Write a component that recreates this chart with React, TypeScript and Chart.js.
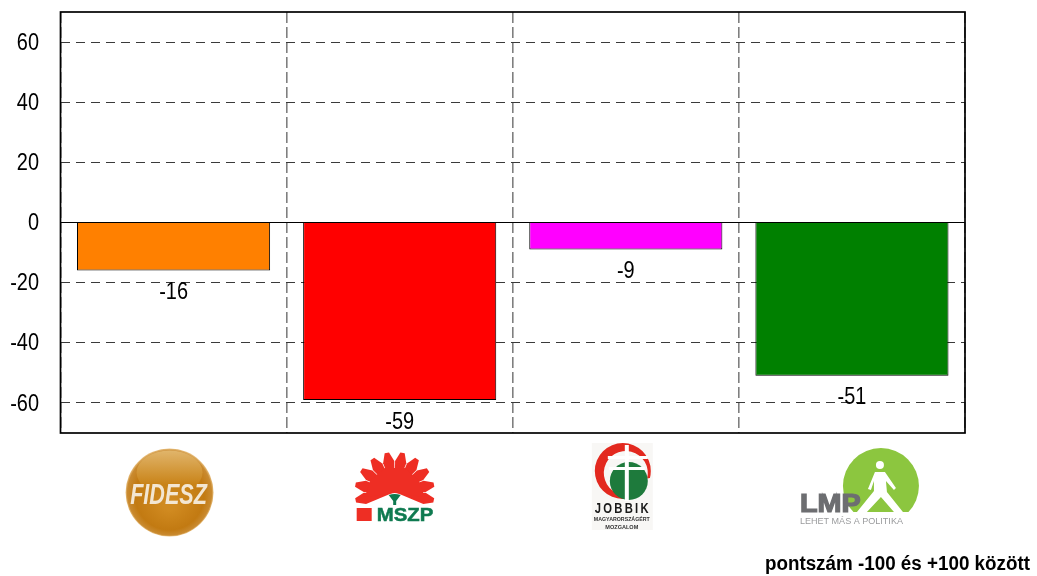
import React, { useEffect, useRef } from "react";
import { Chart, registerables } from "chart.js";

Chart.register(...registerables);

const parties = ["FIDESZ", "MSZP", "JOBBIK", "LMP"];
const scores = [-16, -59, -9, -51];
const barColors = ["#FF8000", "#FF0000", "#FF00FF", "#008000"];
const yTicks = [-60, -40, -20, 0, 20, 40, 60];
const footnote = "pontszám -100 és +100 között";
const mszpLines = ["MSZP"];
const jobbikLines = ["JOBBIK", "MAGYARORSZÁGÉRT", "MOZGALOM"];
const lmpLines = ["LMP", "LEHET MÁS A POLITIKA"];

const SANS = '"Liberation Sans", Arial, sans-serif';
const CONDENSE = 0.83;

function stretchedText(ctx: CanvasRenderingContext2D, text: string, x: number, y: number, sx: number, outline = 0) {
  ctx.save();
  ctx.translate(x, y);
  ctx.scale(sx, 1);
  ctx.fillText(text, 0, 0);
  if (outline > 0) {
    ctx.lineWidth = outline;
    ctx.strokeStyle = ctx.fillStyle as string;
    ctx.strokeText(text, 0, 0);
  }
  ctx.restore();
}

function drawFidesz(ctx: CanvasRenderingContext2D, cx: number) {
  const cy = 492.5;
  const r = 44;
  const g = ctx.createRadialGradient(cx, cy + 12, 6, cx, cy, r);
  g.addColorStop(0, "#D08A20");
  g.addColorStop(0.75, "#C27A12");
  g.addColorStop(0.95, "#C98A30");
  g.addColorStop(1, "#E8C080");
  ctx.fillStyle = g;
  ctx.beginPath();
  ctx.arc(cx, cy, r, 0, Math.PI * 2);
  ctx.fill();
  const h = ctx.createLinearGradient(0, cy - r, 0, cy - 8);
  h.addColorStop(0, "#E2B870");
  h.addColorStop(1, "#C98318");
  ctx.fillStyle = h;
  ctx.beginPath();
  ctx.ellipse(cx, cy - 20, 33, 22, 0, 0, Math.PI * 2);
  ctx.fill();
  ctx.fillStyle = "#F3E6D2";
  ctx.font = `italic bold 30px ${SANS}`;
  ctx.textAlign = "center";
  ctx.textBaseline = "alphabetic";
  stretchedText(ctx, parties[0], cx - 1, cy + 11, 0.72);
}

function drawMszp(ctx: CanvasRenderingContext2D, cx: number) {
  const fy = 492;
  ctx.fillStyle = "#EE2E24";
  const count = 10;
  for (let i = 0; i < count; i++) {
    const a = (-192 + (204 * i) / (count - 1)) * (Math.PI / 180);
    const len = 40;
    const w = 0.185;
    ctx.beginPath();
    ctx.moveTo(cx, fy);
    ctx.lineTo(cx + Math.cos(a - w) * (len - 9), fy + Math.sin(a - w) * (len - 9));
    ctx.lineTo(cx + Math.cos(a - w * 0.3) * len, fy + Math.sin(a - w * 0.3) * len);
    ctx.lineTo(cx + Math.cos(a + w * 0.3) * len, fy + Math.sin(a + w * 0.3) * len);
    ctx.lineTo(cx + Math.cos(a + w) * (len - 9), fy + Math.sin(a + w) * (len - 9));
    ctx.closePath();
    ctx.fill();
  }
  ctx.beginPath();
  ctx.moveTo(cx - 30, fy + 5);
  ctx.lineTo(cx, fy + 1);
  ctx.lineTo(cx + 30, fy + 5);
  ctx.lineTo(cx + 24, fy - 12);
  ctx.lineTo(cx + 10, fy - 24);
  ctx.lineTo(cx - 10, fy - 24);
  ctx.lineTo(cx - 24, fy - 12);
  ctx.closePath();
  ctx.fill();
  ctx.fillStyle = "#0F7A50";
  ctx.beginPath();
  ctx.moveTo(cx - 6, fy + 3);
  ctx.quadraticCurveTo(cx, fy + 1, cx + 6, fy + 3);
  ctx.lineTo(cx + 1.5, fy + 9);
  ctx.lineTo(cx + 1.5, fy + 13);
  ctx.lineTo(cx - 1.5, fy + 13);
  ctx.lineTo(cx - 1.5, fy + 9);
  ctx.closePath();
  ctx.fill();
  ctx.fillStyle = "#EE2E24";
  ctx.fillRect(cx - 38, 508, 15, 13);
  ctx.fillStyle = "#0F7A50";
  ctx.font = `bold 18.5px ${SANS}`;
  ctx.textAlign = "left";
  ctx.textBaseline = "alphabetic";
  stretchedText(ctx, mszpLines[0], cx - 18, 521, 1.1, 0.5);
}

function drawJobbik(ctx: CanvasRenderingContext2D, cx: number) {
  const ox = cx - 1;
  ctx.fillStyle = "#F8F7F5";
  ctx.fillRect(cx - 32, 443, 61, 87);
  ctx.fillStyle = "#E3291F";
  ctx.beginPath();
  ctx.arc(ox, 471, 28, Math.PI * 0.5, Math.PI * 2.08);
  ctx.arc(ox + 3, 473, 22, Math.PI * 2.08, Math.PI * 0.5, true);
  ctx.closePath();
  ctx.fill();
  ctx.fillStyle = "#1E7A3C";
  ctx.beginPath();
  ctx.arc(ox + 6, 481, 19, 0, Math.PI * 2);
  ctx.fill();
  ctx.fillStyle = "#FFFFFF";
  ctx.fillRect(ox + 2, 445, 4, 56);
  ctx.fillRect(ox - 14, 467, 36, 3);
  ctx.fillRect(ox - 15, 456, 40, 3);
  ctx.fillStyle = "#1A1A1A";
  ctx.textAlign = "center";
  ctx.textBaseline = "alphabetic";
  ctx.font = `bold 15px ${SANS}`;
  (ctx as any).letterSpacing = "3px";
  stretchedText(ctx, jobbikLines[0], cx - 1, 513, 0.75);
  (ctx as any).letterSpacing = "0px";
  ctx.fillStyle = "#333333";
  ctx.font = `bold 6px ${SANS}`;
  ctx.fillText(jobbikLines[1], cx - 2, 521, 56);
  ctx.fillText(jobbikLines[2], cx - 2, 529, 33);
}

function drawLmp(ctx: CanvasRenderingContext2D, cx: number) {
  const dx = cx + 29;
  const cy = 486;
  ctx.fillStyle = "#8CC63F";
  ctx.save();
  ctx.beginPath();
  ctx.rect(dx - 40, 440, 80, 72);
  ctx.clip();
  ctx.beginPath();
  ctx.arc(dx, cy, 38, 0, Math.PI * 2);
  ctx.fill();
  ctx.restore();
  ctx.fillStyle = "#FFFFFF";
  ctx.beginPath();
  ctx.arc(dx - 1, 465, 4, 0, Math.PI * 2);
  ctx.fill();
  ctx.beginPath();
  ctx.moveTo(dx - 6, 472);
  ctx.lineTo(dx + 4, 472);
  ctx.lineTo(dx + 15, 488);
  ctx.lineTo(dx + 13, 490);
  ctx.lineTo(dx + 5, 481);
  ctx.lineTo(dx + 6, 492);
  ctx.lineTo(dx + 22, 512);
  ctx.lineTo(dx + 13, 512);
  ctx.lineTo(dx, 497);
  ctx.lineTo(dx - 14, 512);
  ctx.lineTo(dx - 24, 512);
  ctx.lineTo(dx - 7, 491);
  ctx.lineTo(dx - 7, 481);
  ctx.lineTo(dx - 10, 490);
  ctx.lineTo(dx - 13, 489);
  ctx.closePath();
  ctx.fill();
  ctx.fillStyle = "#6D6E71";
  ctx.textAlign = "left";
  ctx.textBaseline = "alphabetic";
  ctx.font = `bold 25px ${SANS}`;
  stretchedText(ctx, lmpLines[0], cx - 52, 512, 1.15, 1.2);
  ctx.fillStyle = "#9A9B9D";
  ctx.font = `9.5px ${SANS}`;
  ctx.fillText(lmpLines[1], cx - 52, 524, 103);
}

const logoDrawers = [drawFidesz, drawMszp, drawJobbik, drawLmp];
const logoOffsets = [-4, -5, -2, 0];

const overlayPlugin = {
  id: "overlay",
  afterDatasetsDraw(chart: any) {
    const { ctx, chartArea: a, scales } = chart;
    ctx.save();
    ctx.strokeStyle = "#000000";
    ctx.lineWidth = 1.7;
    ctx.strokeRect(a.left, a.top, a.right - a.left, a.bottom - a.top);
    ctx.lineWidth = 1.2;
    ctx.beginPath();
    ctx.moveTo(a.left, scales.y.getPixelForValue(0));
    ctx.lineTo(a.right, scales.y.getPixelForValue(0));
    ctx.stroke();

    ctx.fillStyle = "#000000";
    ctx.font = `24px ${SANS}`;
    ctx.textAlign = "center";
    ctx.textBaseline = "middle";
    scores.forEach((v, i) => {
      stretchedText(ctx, String(v), scales.x.getPixelForValue(i), scales.y.getPixelForValue(v) + 22, CONDENSE);
    });
    ctx.textAlign = "right";
    scales.y.ticks.forEach((t: any) => {
      stretchedText(ctx, String(t.value), 39, scales.y.getPixelForValue(t.value) + 1, CONDENSE);
    });

    ctx.save();
    ctx.filter = "blur(0.5px)";
    parties.forEach((_, i) => {
      ctx.save();
      logoDrawers[i](ctx, scales.x.getPixelForValue(i) + logoOffsets[i]);
      ctx.restore();
    });
    ctx.restore();

    ctx.fillStyle = "#000000";
    ctx.font = `bold 19.5px ${SANS}`;
    ctx.textAlign = "right";
    ctx.textBaseline = "alphabetic";
    stretchedText(ctx, footnote, 1030, 570, 0.965);
    ctx.restore();
  },
};

export default function App() {
  const ref = useRef<HTMLCanvasElement | null>(null);
  useEffect(() => {
    if (!ref.current) return;
    const chart = new Chart(ref.current, {
      type: "bar",
      data: {
        labels: parties,
        datasets: [
          {
            data: scores,
            backgroundColor: barColors,
            borderColor: "#000000",
            borderWidth: 1,
            barPercentage: 0.854,
            categoryPercentage: 1,
          },
        ],
      },
      options: {
        responsive: false,
        animation: false,
        layout: { padding: { left: 0.5, right: 72, top: 12, bottom: 143 } },
        plugins: { legend: { display: false }, tooltip: { enabled: false }, title: { display: false } },
        scales: {
          x: {
            ticks: { display: false },
            border: { display: false, dash: [11, 4] },
            grid: { color: "#7F7F7F", lineWidth: 1.6, drawTicks: false, offset: true },
            afterFit(axis: any) {
              axis.height = 0;
              axis.paddingLeft = 0;
              axis.paddingRight = 0;
            },
          },
          y: {
            min: -70,
            max: 70,
            afterBuildTicks(axis: any) {
              axis.ticks = yTicks.map((value) => ({ value }));
            },
            afterFit(axis: any) {
              axis.width = 60;
              axis.paddingTop = 0;
              axis.paddingBottom = 0;
            },
            ticks: { display: false },
            border: {
              display: false,
              dash: (c: any) => (c.tick && c.tick.value === 0 ? [] : [9, 6]),
            },
            grid: {
              color: (c: any) => (c.tick && c.tick.value === 0 ? "#000000" : "#3A3A3A"),
              lineWidth: 1,
              drawTicks: false,
            },
          },
        },
      },
      plugins: [overlayPlugin],
    } as any);
    return () => chart.destroy();
  }, []);
  return (
    <div style={{ position: "absolute", left: 0, top: 0, width: 1037, height: 576, background: "#FFFFFF" }}>
      <canvas ref={ref} width={1037} height={576} style={{ display: "block" }} />
    </div>
  );
}
